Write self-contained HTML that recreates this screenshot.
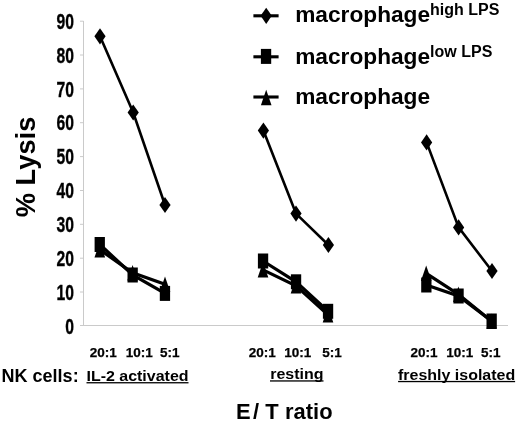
<!DOCTYPE html>
<html lang="en"><head><meta charset="utf-8"><title>Lysis chart</title>
<style>
html,body{margin:0;padding:0;background:#fff;}
body{width:520px;height:422px;overflow:hidden;}
svg{display:block;}
</style></head><body>
<svg width="520" height="422" viewBox="0 0 520 422">
<rect width="520" height="422" fill="#fff"/>
<g stroke="#cacaca" stroke-width="1" fill="none">
<line x1="83.5" y1="21" x2="83.5" y2="325.5"/>
<line x1="80" y1="325.5" x2="508" y2="325.5"/>
<line x1="80" y1="292.0" x2="83.5" y2="292.0"/>
<line x1="80" y1="258.2" x2="83.5" y2="258.2"/>
<line x1="80" y1="224.3" x2="83.5" y2="224.3"/>
<line x1="80" y1="190.5" x2="83.5" y2="190.5"/>
<line x1="80" y1="156.6" x2="83.5" y2="156.6"/>
<line x1="80" y1="122.7" x2="83.5" y2="122.7"/>
<line x1="80" y1="88.9" x2="83.5" y2="88.9"/>
<line x1="80" y1="55.0" x2="83.5" y2="55.0"/>
<line x1="80" y1="21.2" x2="83.5" y2="21.2"/>
</g>
<g font-family="'Liberation Sans', Arial, sans-serif" font-weight="bold" fill="#000">
<text transform="translate(73.9,333.5) scale(0.74,1)" font-size="21.2" text-anchor="end" stroke="#000" stroke-width="0.35">0</text>
<text transform="translate(73.9,299.6) scale(0.74,1)" font-size="21.2" text-anchor="end" stroke="#000" stroke-width="0.35">10</text>
<text transform="translate(73.9,265.8) scale(0.74,1)" font-size="21.2" text-anchor="end" stroke="#000" stroke-width="0.35">20</text>
<text transform="translate(73.9,231.9) scale(0.74,1)" font-size="21.2" text-anchor="end" stroke="#000" stroke-width="0.35">30</text>
<text transform="translate(73.9,198.1) scale(0.74,1)" font-size="21.2" text-anchor="end" stroke="#000" stroke-width="0.35">40</text>
<text transform="translate(73.9,164.2) scale(0.74,1)" font-size="21.2" text-anchor="end" stroke="#000" stroke-width="0.35">50</text>
<text transform="translate(73.9,130.3) scale(0.74,1)" font-size="21.2" text-anchor="end" stroke="#000" stroke-width="0.35">60</text>
<text transform="translate(73.9,96.5) scale(0.74,1)" font-size="21.2" text-anchor="end" stroke="#000" stroke-width="0.35">70</text>
<text transform="translate(73.9,62.6) scale(0.74,1)" font-size="21.2" text-anchor="end" stroke="#000" stroke-width="0.35">80</text>
<text transform="translate(73.9,28.8) scale(0.74,1)" font-size="21.2" text-anchor="end" stroke="#000" stroke-width="0.35">90</text>
<text transform="translate(34.9,217.3) rotate(-90)" font-size="27.3">% Lysis</text>
<text x="103.3" y="356.9" font-size="13.5" text-anchor="middle" stroke="#000" stroke-width="0.25">20:1</text>
<text x="139.2" y="356.9" font-size="13.5" text-anchor="middle" stroke="#000" stroke-width="0.25">10:1</text>
<text x="169.7" y="356.9" font-size="13.5" text-anchor="middle" stroke="#000" stroke-width="0.25">5:1</text>
<text x="262.2" y="356.9" font-size="13.5" text-anchor="middle" stroke="#000" stroke-width="0.25">20:1</text>
<text x="297.8" y="356.9" font-size="13.5" text-anchor="middle" stroke="#000" stroke-width="0.25">10:1</text>
<text x="331.9" y="356.9" font-size="13.5" text-anchor="middle" stroke="#000" stroke-width="0.25">5:1</text>
<text x="424.1" y="356.9" font-size="13.5" text-anchor="middle" stroke="#000" stroke-width="0.25">20:1</text>
<text x="459.8" y="356.9" font-size="13.5" text-anchor="middle" stroke="#000" stroke-width="0.25">10:1</text>
<text x="490.8" y="356.9" font-size="13.5" text-anchor="middle" stroke="#000" stroke-width="0.25">5:1</text>
<text x="1.6" y="382.4" font-size="18">NK cells:</text>
<text transform="translate(137.5,380.7) scale(1.08,1)" font-size="14.8" text-anchor="middle">IL-2 activated</text>
<rect x="86.5" y="382.1" width="102.0" height="1.3"/>
<text transform="translate(296.8,378.9) scale(1.08,1)" font-size="14.8" text-anchor="middle">resting</text>
<rect x="270.0" y="380.3" width="53.5" height="1.3"/>
<text transform="translate(456.6,379.5) scale(1.08,1)" font-size="14.8" text-anchor="middle">freshly isolated</text>
<rect x="398.1" y="380.9" width="117.0" height="1.3"/>
<text transform="translate(235.9,419.1) scale(0.975,1)" font-size="22.5">E</text>
<text transform="translate(253.1,419.1) scale(0.975,1)" font-size="22.5">/</text>
<text transform="translate(265.2,419.1) scale(0.975,1)" font-size="22.5">T</text>
<text transform="translate(285.0,419.1) scale(0.975,1)" font-size="22.5">ratio</text>
<text x="295.2" y="22.1" font-size="22.7">macrophage</text>
<text x="430.1" y="14.6" font-size="16">high LPS</text>
<text x="295.2" y="64.0" font-size="22.7">macrophage</text>
<text x="430.1" y="56.6" font-size="16">low LPS</text>
<text x="295.2" y="104.2" font-size="22.7">macrophage</text>
</g>
<g fill="#000" stroke="none">
<polyline points="99.8,249.7 132.6,272.7 165.0,284.3" fill="none" stroke="#000" stroke-width="3.2"/>
<polygon points="99.8,241.9 105.1,257.4 94.5,257.4"/>
<polygon points="132.6,264.9 137.9,280.4 127.3,280.4"/>
<polygon points="165.0,276.6 170.3,292.1 159.7,292.1"/>
<polyline points="263.0,269.9 296.0,285.8 328.0,314.8" fill="none" stroke="#000" stroke-width="3.2"/>
<polygon points="263.0,262.1 268.3,277.6 257.7,277.6"/>
<polygon points="296.0,278.1 301.3,293.6 290.7,293.6"/>
<polygon points="328.0,307.1 333.3,322.6 322.7,322.6"/>
<polyline points="426.2,273.3 458.4,294.3 491.6,321.3" fill="none" stroke="#000" stroke-width="3.2"/>
<polygon points="426.2,265.6 431.5,281.1 420.9,281.1"/>
<polygon points="458.4,286.6 463.7,302.1 453.1,302.1"/>
<polygon points="491.6,313.6 496.9,329.1 486.3,329.1"/>
<polyline points="99.8,244.5 132.7,275.0 165.0,293.4" fill="none" stroke="#000" stroke-width="3.25"/>
<rect x="94.6" y="237.0" width="10.3" height="15.0"/>
<rect x="127.5" y="267.5" width="10.3" height="15.0"/>
<rect x="159.8" y="285.9" width="10.3" height="15.0"/>
<polyline points="263.0,261.0 296.0,281.8 328.0,311.3" fill="none" stroke="#000" stroke-width="3.25"/>
<rect x="257.9" y="253.5" width="10.3" height="15.0"/>
<rect x="290.9" y="274.3" width="10.3" height="15.0"/>
<rect x="322.9" y="303.8" width="10.3" height="15.0"/>
<polyline points="426.3,285.0 458.5,296.0 491.6,321.0" fill="none" stroke="#000" stroke-width="3.25"/>
<rect x="421.2" y="277.5" width="10.3" height="15.0"/>
<rect x="453.4" y="288.5" width="10.3" height="15.0"/>
<rect x="486.5" y="313.5" width="10.3" height="15.0"/>
<polyline points="100.0,36.3 133.2,112.5 165.0,205.0" fill="none" stroke="#000" stroke-width="2.6"/>
<polygon points="100.0,28.2 105.6,36.3 100.0,44.4 94.4,36.3"/>
<polygon points="133.2,104.4 138.8,112.5 133.2,120.6 127.6,112.5"/>
<polygon points="165.0,196.9 170.6,205.0 165.0,213.1 159.4,205.0"/>
<polyline points="263.4,130.6 296.0,213.6 328.4,245.0" fill="none" stroke="#000" stroke-width="2.6"/>
<polygon points="263.4,122.5 269.0,130.6 263.4,138.7 257.8,130.6"/>
<polygon points="296.0,205.5 301.6,213.6 296.0,221.7 290.4,213.6"/>
<polygon points="328.4,236.9 334.0,245.0 328.4,253.1 322.8,245.0"/>
<polyline points="426.6,142.4 458.6,227.4 492.0,271.0" fill="none" stroke="#000" stroke-width="2.6"/>
<polygon points="426.6,134.3 432.2,142.4 426.6,150.5 421.0,142.4"/>
<polygon points="458.6,219.3 464.2,227.4 458.6,235.5 453.0,227.4"/>
<polygon points="492.0,262.9 497.6,271.0 492.0,279.1 486.4,271.0"/>
<line x1="253.4" y1="15.8" x2="278.6" y2="15.8" stroke="#000" stroke-width="3.1"/>
<line x1="253.4" y1="56.8" x2="278.6" y2="56.8" stroke="#000" stroke-width="3.1"/>
<line x1="253.4" y1="97.0" x2="278.6" y2="97.0" stroke="#000" stroke-width="3.1"/>
<polygon points="266.2,7.7 271.8,15.8 266.2,23.9 260.6,15.8"/>
<rect x="260.9" y="48.9" width="10.3" height="15.0"/>
<polygon points="266.2,89.7 271.5,105.2 260.9,105.2"/>
</g>
</svg>
</body></html>
